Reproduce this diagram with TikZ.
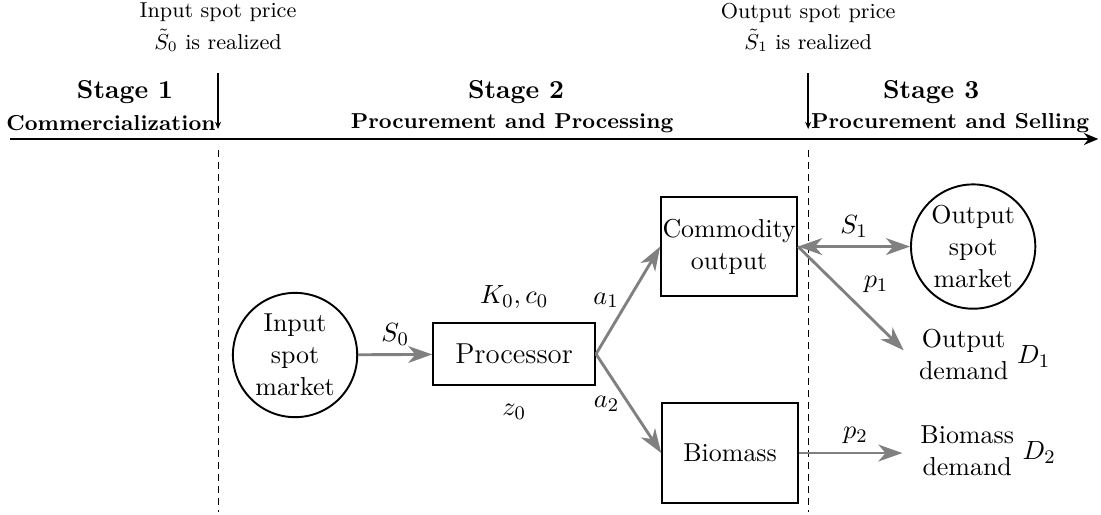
\documentclass[tikz,border=0pt]{standalone}
\usetikzlibrary{arrows.meta,positioning}
\begin{document}
\begin{tikzpicture}[
    font=\fontsize{10.8}{13.4}\selectfont,
    box/.style={draw,thick,minimum width=1.99cm,minimum height=1.46cm,align=center,inner xsep=0.5pt},
    market/.style={draw,thick,circle,minimum size=1.82cm,inner sep=0pt,align=center},
    flow/.style={draw=gray,very thick,-{Stealth[length=10pt,width=7pt,inset=3pt]}},
    event/.style={semithick,-{Stealth[length=3pt,width=2.5pt]}},
    divider/.style={densely dashed},
    notice/.style={align=center,font=\fontsize{9}{11}\selectfont},
    stage/.style={font=\fontsize{10.8}{13}\selectfont\bfseries},
    phase/.style={font=\fontsize{9}{11}\selectfont\bfseries}
]
\useasboundingbox (0,0) rectangle (16.12,-7.527);

% time line
\coordinate (tstart) at (0.146,-2.035);
\coordinate (tend) at (16.08,-2.035);
\draw[thick,-{Stealth[length=6pt,width=5pt]}] (tstart) -- (tend);

\node[notice] (inprice) at (3.192,-0.40) {Input spot price\\[2pt]$\tilde{S}_0$ is realized};
\node[notice] (outprice) at (11.832,-0.40) {Output spot price\\[2pt]$\tilde{S}_1$ is realized};
\coordinate (inevtop) at (3.192,-1.069);
\coordinate (inevbot) at (3.192,-1.889);
\coordinate (outevtop) at (11.832,-1.069);
\coordinate (outevbot) at (11.832,-1.889);
\draw[event] (inevtop) -- (inevbot);
\draw[event] (outevtop) -- (outevbot);

\node[stage] (stage1) at (1.83,-1.35) {Stage 1};
\node[phase] (phase1) at (1.625,-1.8) {Commercialization};
\node[stage] (stage2) at (7.556,-1.35) {Stage 2};
\node[phase] (phase2) at (7.497,-1.8) {Procurement and Processing};
\node[stage] (stage3) at (13.633,-1.35) {Stage 3};
\node[phase] (phase3) at (13.911,-1.8) {Procurement and Selling};

\coordinate (div1top) at (3.192,-2.197);
\coordinate (div1bot) at (3.192,-7.497);
\coordinate (div2top) at (11.832,-2.197);
\coordinate (div2bot) at (11.832,-7.497);
\draw[divider] (div1top) -- (div1bot);
\draw[divider] (div2top) -- (div2bot);

% nodes
\node[market] (inmarket) at (4.32,-5.198) {Input\\spot\\market};
\node[draw,thick,minimum width=2.37cm,minimum height=0.91cm,font=\fontsize{12}{14}\selectfont] (processor) at (7.527,-5.184) {Processor};
\node[above=2pt of processor] (capacity) {$K_0, c_0$};
\node[below=4pt of processor] (hedge) {$z_0$};
\node[box] (commodity) at (10.675,-3.61) {Commodity\\output};
\node[box] (biomass) at (10.69,-6.633) {Biomass};
\node[market] (outmarket) at (14.248,-3.61) {Output\\spot\\market};
\node (outdemand) at (14.416,-5.228) {\begin{tabular}{@{}c@{}}Output\\demand\end{tabular} $D_1$};
\node (biodemand) at (14.467,-6.633) {\begin{tabular}{@{}c@{}}Biomass\\demand\end{tabular} $D_2$};

% flows
\draw[flow] (inmarket) -- node[above] {$S_0$} (processor);
\draw[flow] (processor.east) -- node[left] {$a_1$} (commodity.west);
\draw[flow] (processor.east) -- node[left] {$a_2$} (biomass.west);
\draw[flow,{Stealth[length=10pt,width=7pt,inset=3pt]}-{Stealth[length=10pt,width=7pt,inset=3pt]}] (commodity.east) -- node[above] {$S_1$} (outmarket.west);
\draw[flow,shorten >=4pt] (commodity.east) -- node[above right] {$p_1$} (outdemand.west);
\draw[flow,shorten >=4pt] (biomass) -- node[above] {$p_2$} (biodemand);
\end{tikzpicture}
\end{document}
